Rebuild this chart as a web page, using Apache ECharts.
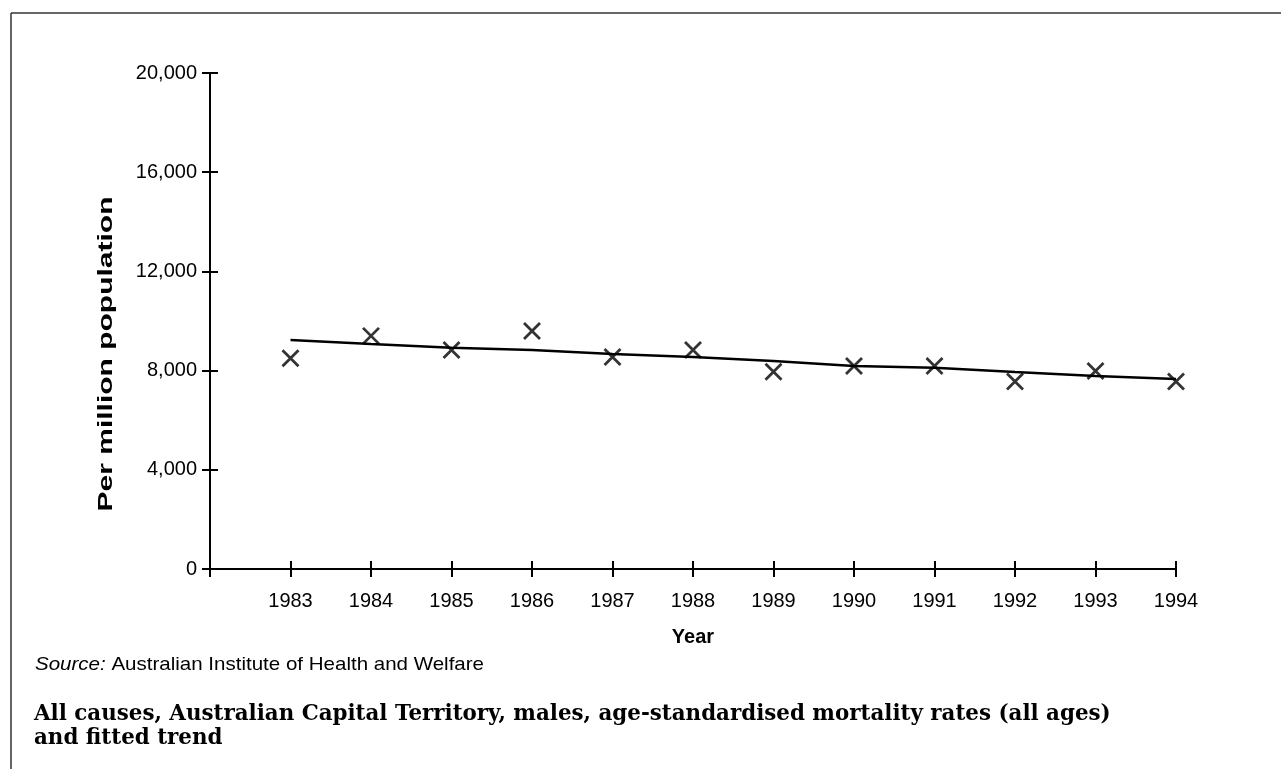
<!DOCTYPE html>
<html>
<head>
<meta charset="utf-8">
<script src="https://cdn.jsdelivr.net/npm/echarts@6/dist/echarts.min.js"></script>
<style>
html,body{margin:0;padding:0;background:#fff;}
#chart{width:1281px;height:769px;}
</style>
</head>
<body>
<div id="chart"></div>
<script>
const years = [1983, 1984, 1985, 1986, 1987, 1988, 1989, 1990, 1991, 1992, 1993, 1994];
const rates = [8500, 9400, 8830, 9600, 8550, 8830, 7950, 8190, 8190, 7560, 7980, 7560];
const trend = [9230, 9070, 8920, 8830, 8670, 8550, 8390, 8190, 8110, 7940, 7780, 7660];
const yTicks = [0, 4000, 8000, 12000, 16000, 20000];
const xTitle = 'Year';
const yTitle = 'Per million population';
const sourceLabel = 'Source:';
const sourceText = ' Australian Institute of Health and Welfare';
const titleLines = ['All causes, Australian Capital Territory, males, age-standardised mortality rates (all ages)', 'and fitted trend'];

const SANS = '"Liberation Sans", Arial, Helvetica, sans-serif';
const SERIF = '"DejaVu Serif", serif';

const chart = echarts.init(document.getElementById('chart'), null, {renderer: 'canvas'});

const baseX = {
  type: 'value', min: years[0] - 1, max: years[years.length - 1], interval: 1,
  position: 'bottom', splitLine: {show: false}
};
const baseY = {
  type: 'value', min: yTicks[0], max: yTicks[yTicks.length - 1], interval: yTicks[1] - yTicks[0],
  position: 'left', splitLine: {show: false}
};

const option = {
  animation: false,
  backgroundColor: '#fff',
  grid: {left: 210, right: 105, top: 73, bottom: 200, containLabel: false},
  xAxis: [
    Object.assign({}, baseX, {
      axisLine: {show: true, lineStyle: {color: '#000', width: 2}},
      axisTick: {show: true, inside: false, length: 8, lineStyle: {color: '#000', width: 2}},
      axisLabel: {
        show: true, margin: 22, color: '#000', fontFamily: SANS, fontSize: 20,
        formatter: v => (v < years[0] ? '' : String(v))
      },
      name: xTitle, nameLocation: 'middle', nameGap: 58,
      nameTextStyle: {color: '#000', fontFamily: SANS, fontSize: 20, fontWeight: 'bold'}
    }),
    Object.assign({}, baseX, {
      axisLine: {show: false, onZero: false},
      axisTick: {show: true, inside: true, length: 8, lineStyle: {color: '#000', width: 2}},
      axisLabel: {show: false}
    })
  ],
  yAxis: [
    Object.assign({}, baseY, {
      axisLine: {show: true, lineStyle: {color: '#000', width: 2}},
      axisTick: {show: true, inside: false, length: 8, lineStyle: {color: '#000', width: 2}},
      axisLabel: {
        show: true, margin: 13, color: '#000', fontFamily: SANS, fontSize: 20,
        formatter: v => v.toLocaleString('en-US')
      }
    }),
    Object.assign({}, baseY, {
      axisLine: {show: false, onZero: false},
      axisTick: {show: true, inside: true, length: 8, lineStyle: {color: '#000', width: 2}},
      axisLabel: {show: false}
    })
  ],
  series: [
    {
      type: 'line', name: 'trend', xAxisIndex: 0, yAxisIndex: 0,
      data: years.map((y, i) => [y, trend[i]]),
      showSymbol: false, symbol: 'none',
      lineStyle: {color: '#000', width: 2.5},
      silent: true, z: 2
    },
    {
      type: 'scatter', name: 'rates', xAxisIndex: 0, yAxisIndex: 0,
      data: years.map((y, i) => [y, rates[i]]),
      symbol: 'path://M0,0L10,10M10,0L0,10', symbolSize: 16,
      itemStyle: {color: 'none', borderColor: '#000', borderWidth: 2.8},
      silent: true, z: 3
    }
  ],
  graphic: [
    {type: 'line', shape: {x1: 11, y1: 13, x2: 1281, y2: 13}, style: {stroke: '#333', lineWidth: 1.5}, silent: true},
    {type: 'line', shape: {x1: 11, y1: 13, x2: 11, y2: 769}, style: {stroke: '#333', lineWidth: 1.5}, silent: true},
    {
      type: 'text', x: 106, y: 354, rotation: Math.PI / 2, scaleX: 1.5,
      style: {text: yTitle, fill: '#000', font: 'bold 20px ' + SANS, align: 'center', verticalAlign: 'middle'},
      silent: true
    },
    {
      type: 'text', x: 35, y: 665, scaleX: 1.08,
      style: {
        text: '{i|' + sourceLabel + '}{r|' + sourceText + '}',
        verticalAlign: 'middle', align: 'left',
        rich: {
          i: {fontFamily: SANS, fontSize: 19, fontStyle: 'italic', fill: '#000'},
          r: {fontFamily: SANS, fontSize: 19, fill: '#000'}
        }
      },
      silent: true
    },
    {
      type: 'text', x: 34, y: 702,
      style: {
        text: titleLines.join('\n'), fill: '#000', fontFamily: SERIF, fontSize: 21.4, fontWeight: 'bold',
        lineHeight: 24, align: 'left', verticalAlign: 'top'
      },
      silent: true
    }
  ]
};
chart.setOption(option);
</script>
</body>
</html>
